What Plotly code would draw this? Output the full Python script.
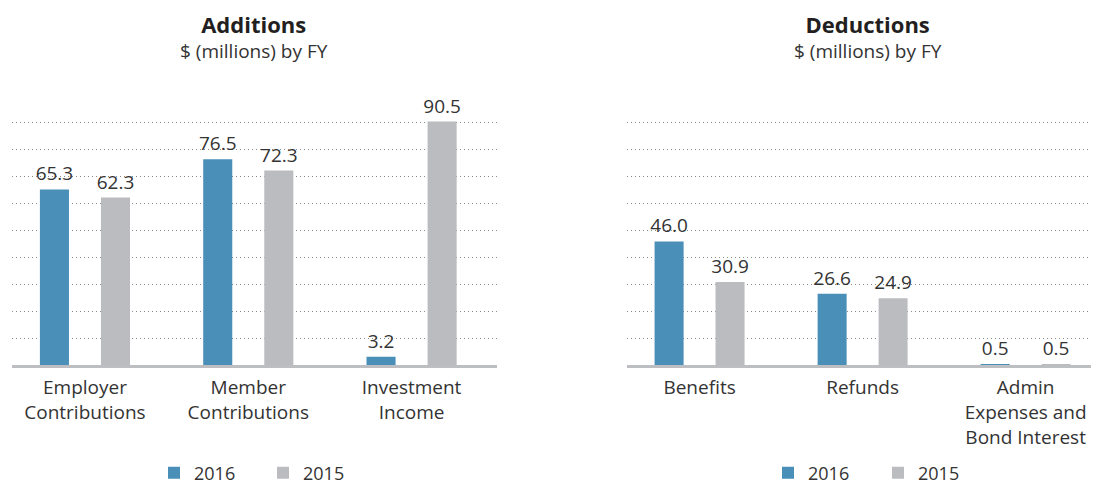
import plotly.graph_objects as go

# ---- data ----
add_categories = ["Employer<br>Contributions", "Member<br>Contributions", "Investment<br>Income"]
add_2016 = [65.3, 76.5, 3.2]
add_2015 = [62.3, 72.3, 90.5]

ded_categories = ["Benefits", "Refunds", "Admin<br>Expenses and<br>Bond Interest"]
ded_2016 = [46.0, 26.6, 0.5]
ded_2015 = [30.9, 24.9, 0.5]

series_names = ["2016", "2015"]
titles = ["Additions", "Deductions"]
subtitle = "$ (millions) by FY"

# ---- style ----
BLUE = "#4a8fb8"
GRAY = "#bbbcc0"
TXT = "#333333"
FONT = "Open Sans"
PAGE_W, PAGE_H = 1099, 484
OFF = 8  # default body margin of the html page
W, H = PAGE_W - OFF, PAGE_H - OFF

BAR_W = 0.178
OFF_A = -0.276
OFF_B = 0.098

fig = go.Figure()

def add_pair(cats, v16, v15, xa, ya, leg):
    for name, vals, col, off in [(series_names[0], v16, BLUE, OFF_A), (series_names[1], v15, GRAY, OFF_B)]:
        fig.add_trace(go.Bar(
            x=cats, y=vals, name=name, marker_color=col, marker_line_width=0,
            width=BAR_W, offset=off,
            text=[f"{v:.1f}" for v in vals], textposition="outside",
            textfont=dict(family=FONT, size=19, color=TXT),
            constraintext="none",
            cliponaxis=False, xaxis=xa, yaxis=ya, legend=leg,
            hoverinfo="skip",
        ))

add_pair(add_categories, add_2016, add_2015, "x", "y", "legend")
add_pair(ded_categories, ded_2016, ded_2015, "x2", "y2", "legend2")

def py(p):
    return 1 - (p - OFF) / H

def px(p):
    return (p - OFF) / W

yax = dict(range=[0, 100], dtick=10, showgrid=True, gridcolor="#8a8a8a", griddash="1px,3px",
           gridwidth=1, showticklabels=False, zeroline=False, showline=False, ticks="",
           domain=[py(365.3), py(96)], fixedrange=True)
xax_common = dict(showgrid=False, showline=True, linecolor="#bdbec1", linewidth=3,
                  ticks="", tickfont=dict(family=FONT, size=19, color=TXT),
                  ticklabelstandoff=3, fixedrange=True)

leg_common = dict(orientation="h", yref="container", xref="container", y=py(473),
                  xanchor="left", yanchor="middle",
                  font=dict(family=FONT, size=18, color=TXT),
                  traceorder="normal", bgcolor="rgba(0,0,0,0)")

fig.update_layout(
    width=W, height=H,
    margin=dict(l=0, r=0, t=0, b=0, autoexpand=False),
    paper_bgcolor="white", plot_bgcolor="white",
    barmode="overlay",
    font=dict(family=FONT, color=TXT),
    xaxis=dict(**xax_common, domain=[px(12.3), px(496.5)], range=[-0.445, 2.52], anchor="y"),
    yaxis=dict(**yax, anchor="x"),
    xaxis2=dict(**xax_common, domain=[px(626.7), 1.0], range=[-0.447, 2.45], anchor="y2"),
    yaxis2=dict(**yax, anchor="x2"),
    legend=dict(**leg_common, x=px(154), entrywidth=64),
    legend2=dict(**leg_common, x=px(768), entrywidth=65),
    showlegend=True,
)

for cx, t in [(254.4, titles[0]), (868, titles[1])]:
    fig.add_annotation(
        x=px(cx), y=py(36.5), xref="paper", yref="paper",
        text=f"<span style='font-size:22px;color:#231f20'><b>{t}</b></span><br>{subtitle}",
        showarrow=False, font=dict(family=FONT, size=19, color=TXT),
        xanchor="center", yanchor="middle", align="center")

fig.write_html("out.html")
